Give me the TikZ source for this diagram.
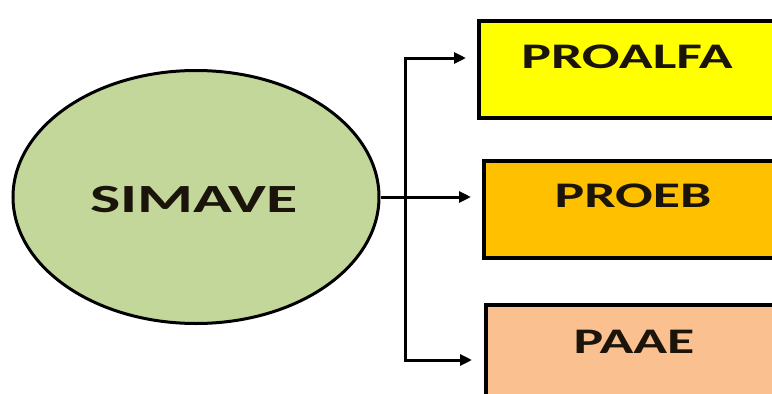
\documentclass[tikz,border=0pt]{standalone}
\usepackage{fontspec}
\usepackage{graphicx}
\setmainfont{Carlito}
\usetikzlibrary{shapes.geometric,arrows.meta}
\definecolor{simgreen}{HTML}{C4D79B}
\definecolor{pyellow}{HTML}{FFFF00}
\definecolor{porange}{HTML}{FFC000}
\definecolor{ppeach}{HTML}{FAC090}
\definecolor{txt}{HTML}{1A140A}
\newcommand{\widetext}[3]{\scalebox{#3}[1]{\fontsize{#1}{#1}\selectfont\bfseries #2}}
\tikzset{
  prbox/.style={draw=black, line width=4pt, rectangle, inner sep=0pt, minimum width=323pt, minimum height=97pt},
  lbl/.style={inner sep=0pt, text=txt},
  conn/.style={draw=black, line width=3pt, -{Triangle[length=12pt,width=11pt]}},
  plainline/.style={draw=black, line width=3pt},
}
\begin{document}
\begin{tikzpicture}[x=1pt,y=-1pt]
\useasboundingbox (0,0) rectangle (772,394);
\clip (0,0) rectangle (772,394);
\node[ellipse, draw=black, line width=3pt, fill=simgreen, minimum width=366pt, minimum height=253pt, inner sep=0pt] (sim) at (196,197) {};
\node[lbl] (simlbl) at (194,200) {\widetext{40}{SIMAVE}{1.6}};
\node[prbox, fill=pyellow, anchor=north west] (boxA) at (477,19) {};
\node[prbox, fill=porange, anchor=north west] (boxB) at (482,159) {};
\node[prbox, fill=ppeach, anchor=north west] (boxC) at (484,303) {};
\node[lbl] (lblA) at (627,57) {\widetext{36}{PROALFA}{1.55}};
\node[lbl] (lblB) at (633,196) {\widetext{36}{PROEB}{1.55}};
\node[lbl] (lblC) at (634,342) {\widetext{36}{PAAE}{1.55}};
\coordinate (jtop) at (405,58);
\coordinate (jbot) at (405,360);
\draw[plainline, line cap=rect] (jtop) -- (jbot);
\draw[conn, shorten >=11pt] (jtop) -- (jtop -| boxA.west);
\draw[conn, shorten >=11pt] (sim.east) -- (sim.east -| boxB.west);
\draw[conn, shorten >=12pt] (jbot) -- (jbot -| boxC.west);
\end{tikzpicture}
\end{document}
